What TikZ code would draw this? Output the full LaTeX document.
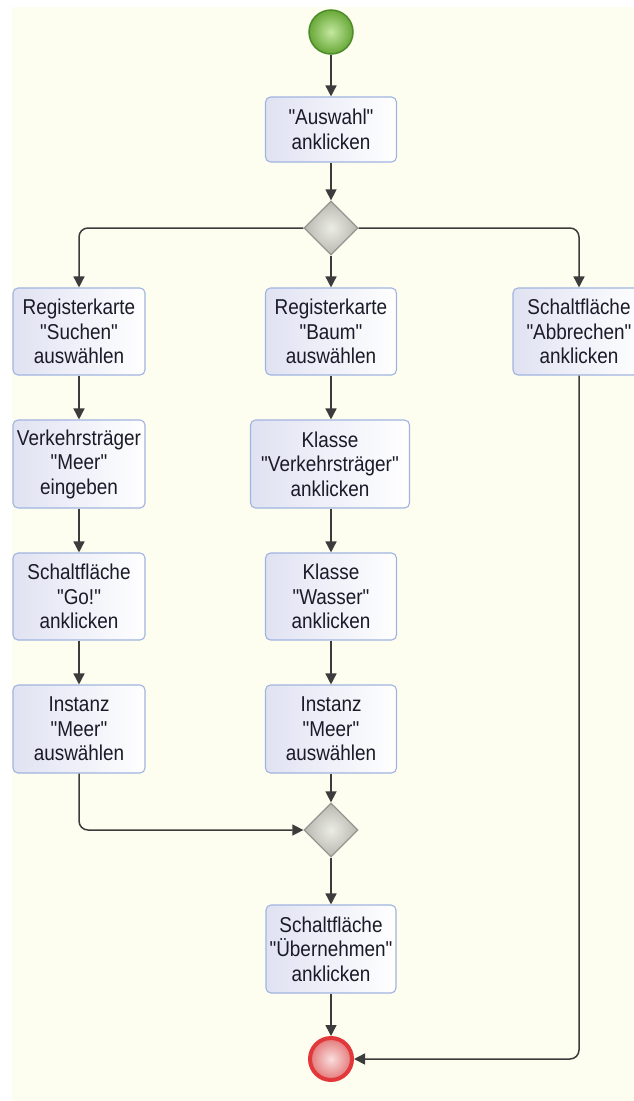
\documentclass[tikz,border=0pt]{standalone}
\usepackage{fontspec}
\setmainfont{Liberation Sans}
\newfontfamily\boxfont[FakeStretch=0.88]{Liberation Sans}
\usetikzlibrary{arrows.meta,shapes.geometric}

\definecolor{paper}{RGB}{254,254,240}
\definecolor{boxleft}{RGB}{224,226,242}
\definecolor{boxedge}{RGB}{160,180,224}
\definecolor{flow}{RGB}{60,60,60}
\definecolor{txt}{RGB}{26,26,40}
\definecolor{gatein}{RGB}{236,236,230}
\definecolor{gateout}{RGB}{184,184,176}
\definecolor{gateedge}{RGB}{150,150,146}
\definecolor{startin}{RGB}{196,232,160}
\definecolor{startout}{RGB}{104,168,56}
\definecolor{startedge}{RGB}{78,140,42}
\definecolor{endin}{RGB}{250,222,222}
\definecolor{endout}{RGB}{228,120,120}
\definecolor{endedge}{RGB}{226,56,60}

\tikzset{
  action/.style={draw=boxedge, line width=1.1pt, rounded corners=5pt,
    left color=boxleft, right color=white, align=center, inner sep=0pt,
    font=\boxfont\fontsize{21.5}{24.5}\selectfont, text=txt,
    minimum width=131pt, minimum height=87pt},
  gate/.style={diamond, draw=gateedge, line width=1.3pt, inner sep=0pt,
    minimum width=54pt, minimum height=54pt, shading=radial,
    inner color=gatein, outer color=gateout},
  startnode/.style={circle, draw=startedge, line width=1.5pt, minimum size=44pt,
    inner sep=0pt, shading=radial, inner color=startin, outer color=startout},
  endnode/.style={circle, draw=endedge, line width=4pt, minimum size=42pt,
    inner sep=0pt, shading=radial, inner color=endin, outer color=endout},
  flowline/.style={draw=flow, line width=1.5pt, rounded corners=9pt,
    -{Triangle[width=11pt,length=11pt]}},
}

\begin{document}
\begin{tikzpicture}[x=1pt,y=-1pt]
  \useasboundingbox (0,0) rectangle (634,1101);
  \clip (0,0) rectangle (634,1101);
  \fill[paper] (12,7) rectangle (634,1101);

  % start and first action
  \node[startnode] (start) at (331,32) {};
  \node[action, minimum height=65pt] (auswahl) at (331,129.5) {"Auswahl"\\anklicken};
  \node[gate] (split) at (331,228) {};

  % left branch: search tab
  \node[action, minimum width=132pt] (suchen) at (79,331.5) {Registerkarte\\"Suchen"\\auswählen};
  \node[action, minimum width=132pt, minimum height=88pt] (eingeben) at (79,464) {Verkehrsträger\\"Meer"\\eingeben};
  \node[action, minimum width=132pt] (go) at (79,596.5) {Schaltfläche\\"Go!"\\anklicken};
  \node[action, minimum width=132pt, minimum height=88pt] (instanzL) at (79,729) {Instanz\\"Meer"\\auswählen};

  % middle branch: tree tab
  \node[action] (baum) at (331,331.5) {Registerkarte\\"Baum"\\auswählen};
  \node[action, minimum width=159pt, minimum height=88pt] (klasseV) at (330,464) {Klasse\\"Verkehrsträger"\\anklicken};
  \node[action] (klasseW) at (331,596.5) {Klasse\\"Wasser"\\anklicken};
  \node[action, minimum height=88pt] (instanzM) at (331,729) {Instanz\\"Meer"\\auswählen};

  % right branch: cancel
  \node[action, minimum width=132pt] (abbrechen) at (579,331.5) {Schaltfläche\\"Abbrechen"\\anklicken};

  % merge and finish
  \node[gate] (merge) at (331,830) {};
  \node[action, minimum width=130pt, minimum height=88pt] (uebernehmen) at (331,949) {Schaltfläche\\"Übernehmen"\\anklicken};
  \node[endnode] (finish) at (331,1059) {};

  % connectors
  \draw[flowline] (start) -- (auswahl);
  \draw[flowline] (auswahl) -- (split);
  \draw[flowline] (split.west) -| (suchen.north);
  \draw[flowline] (split) -- (baum);
  \draw[flowline] (split.east) -| (abbrechen.north);

  \draw[flowline] (suchen) -- (eingeben);
  \draw[flowline] (eingeben) -- (go);
  \draw[flowline] (go) -- (instanzL);
  \draw[flowline] (instanzL.south) |- (merge.west);

  \draw[flowline] (baum.south) -- (baum.south |- klasseV.north);
  \draw[flowline] (klasseW.north |- klasseV.south) -- (klasseW.north);
  \draw[flowline] (klasseW) -- (instanzM);
  \draw[flowline] (instanzM) -- (merge);

  \draw[flowline] (merge) -- (uebernehmen);
  \draw[flowline] (uebernehmen) -- (finish);
  \draw[flowline] (abbrechen.south) |- (finish.east);
\end{tikzpicture}
\end{document}
